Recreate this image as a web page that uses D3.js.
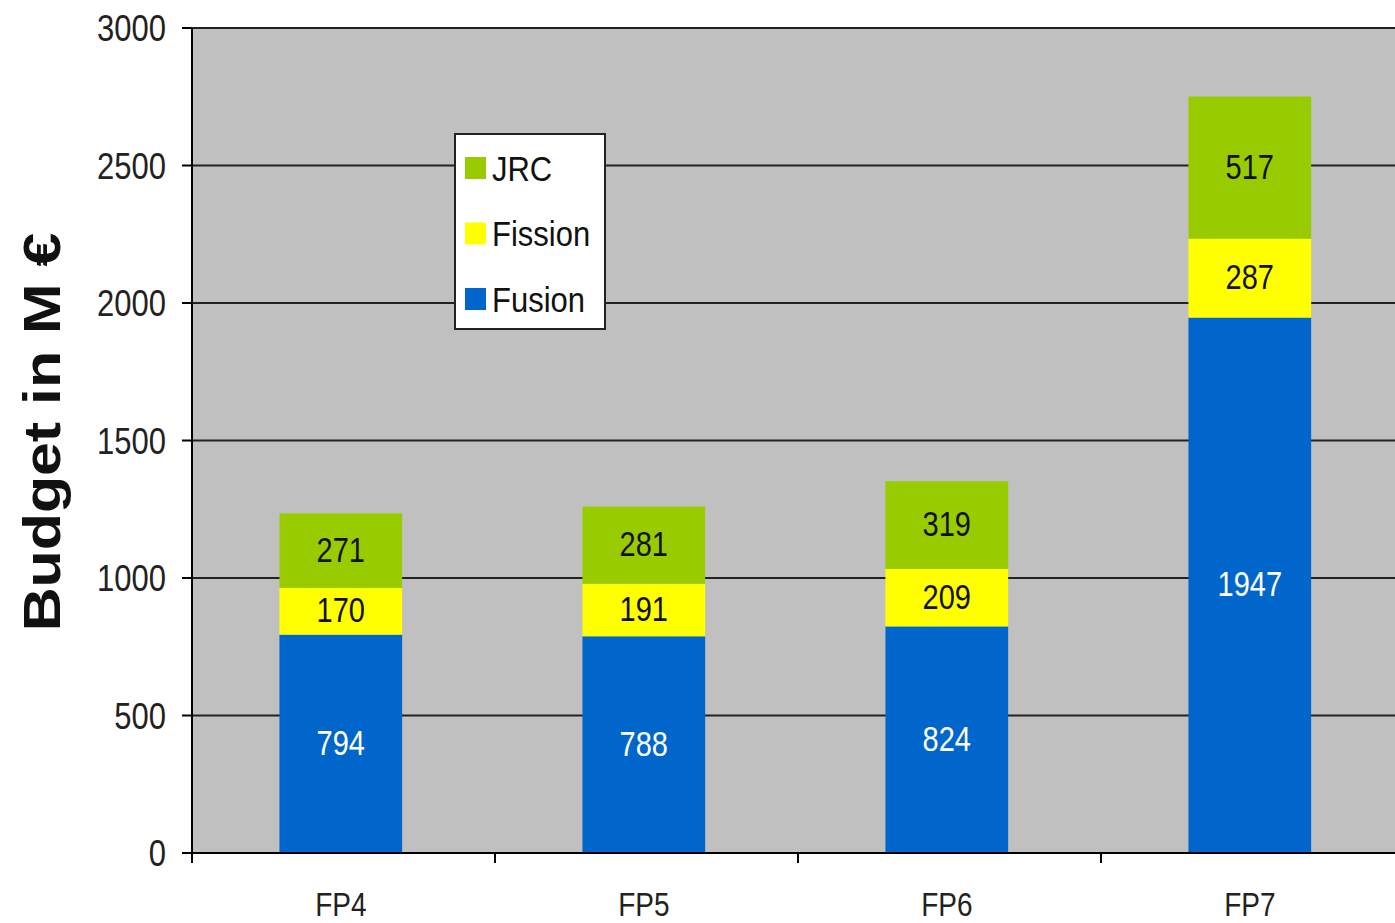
<!DOCTYPE html>
<html lang="en">
<head>
    <meta charset="UTF-8">
    <title>Budget in M €</title>
    <script type="text/javascript" src="https://cdn.jsdelivr.net/npm/d3@7"></script>
    <style>
        body { margin: 0; background: #fff; }
        text { font-family: "Liberation Sans", Arial, sans-serif; }
    </style>
</head>
<body>
    <script type="text/javascript">

        //data
        var categories = ["FP4", "FP5", "FP6", "FP7"];
        var fusion  = [794, 788, 824, 1947];
        var fission = [170, 191, 209, 287];
        var jrc     = [271, 281, 319, 517];
        var seriesNames = ["Fusion", "Fission", "JRC"];
        var seriesColors = ["#0066cc", "#ffff00", "#99cc00"];
        var labelColors = ["#ffffff", "#111111", "#111111"];
        var yTicks = [0, 500, 1000, 1500, 2000, 2500, 3000];

        //Width and height
        var w = 1395;
        var h = 923;
        var plotLeft = 192, plotTop = 28, plotBottom = 853;
        var plotRight = plotLeft + 4 * 303;
        var sy = 1.2;   // text looks stretched vertically

        var table = categories.map(function(c, i) {
            return { cat: c, Fusion: fusion[i], Fission: fission[i], JRC: jrc[i] };
        });
        var stacked = d3.stack().keys(seriesNames)(table);

        var xScale = d3.scaleBand()
                        .domain(categories)
                        .range([plotLeft, plotRight])
                        .paddingInner(0.595)
                        .paddingOuter(0.2975)
                        .align(0.485);

        var yScale = d3.scaleLinear()
                        .domain([0, 3000])
                        .range([plotBottom, plotTop]);

        var svg = d3.select("body")
                    .append("svg")
                    .attr("width", w)
                    .attr("height", h);

        //plot background
        svg.append("rect")
            .attr("x", plotLeft)
            .attr("y", plotTop)
            .attr("width", plotRight - plotLeft)
            .attr("height", plotBottom - plotTop)
            .attr("fill", "#c0c0c0");

        //gridlines
        svg.selectAll("line.grid")
            .data(yTicks.slice(1))
            .enter()
            .append("line")
            .attr("class", "grid")
            .attr("x1", plotLeft)
            .attr("x2", plotRight)
            .attr("y1", function(d) { return yScale(d); })
            .attr("y2", function(d) { return yScale(d); })
            .attr("stroke", "#222")
            .attr("stroke-width", 2);

        //bars
        var layers = svg.selectAll("g.layer")
            .data(stacked)
            .enter()
            .append("g")
            .attr("class", "layer")
            .attr("fill", function(d, i) { return seriesColors[i]; });

        layers.selectAll("rect")
            .data(function(d) { return d; })
            .enter()
            .append("rect")
            .attr("x", function(d) { return xScale(d.data.cat); })
            .attr("y", function(d) { return yScale(d[1]); })
            .attr("width", xScale.bandwidth())
            .attr("height", function(d) { return yScale(d[0]) - yScale(d[1]); });

        //value labels
        stacked.forEach(function(layer, li) {
            svg.selectAll("text.v" + li)
                .data(layer)
                .enter()
                .append("text")
                .attr("class", "v" + li)
                .attr("transform", function(d) {
                    var cx = xScale(d.data.cat) + xScale.bandwidth() / 2;
                    var cy = (yScale(d[0]) + yScale(d[1])) / 2;
                    return "translate(" + cx + "," + cy + ") scale(1," + sy + ")";
                })
                .attr("text-anchor", "middle")
                .attr("dy", "0.32em")
                .attr("font-size", 29)
                .attr("fill", labelColors[li])
                .text(function(d) { return d[1] - d[0]; });
        });

        //y axis
        var yAxis = svg.append("g").attr("transform", "translate(" + plotLeft + ",0)");
        yAxis.append("line")
            .attr("x1", 0).attr("x2", 0)
            .attr("y1", plotTop).attr("y2", plotBottom + 10)
            .attr("stroke", "#000").attr("stroke-width", 2);
        yAxis.selectAll("line.tick")
            .data(yTicks)
            .enter()
            .append("line")
            .attr("class", "tick")
            .attr("x1", -10).attr("x2", 0)
            .attr("y1", function(d) { return yScale(d); })
            .attr("y2", function(d) { return yScale(d); })
            .attr("stroke", "#000").attr("stroke-width", 2);
        yAxis.selectAll("text")
            .data(yTicks)
            .enter()
            .append("text")
            .attr("transform", function(d) {
                return "translate(-26," + yScale(d) + ") scale(1," + sy + ")";
            })
            .attr("text-anchor", "end")
            .attr("dy", "0.36em")
            .attr("font-size", 31)
            .attr("fill", "#222")
            .text(function(d) { return d; });

        //x axis
        var xAxis = svg.append("g");
        xAxis.append("line")
            .attr("x1", plotLeft).attr("x2", plotRight)
            .attr("y1", plotBottom).attr("y2", plotBottom)
            .attr("stroke", "#000").attr("stroke-width", 2);
        xAxis.selectAll("line.tick")
            .data(categories)
            .enter()
            .append("line")
            .attr("class", "tick")
            .attr("x1", function(d, i) { return plotLeft + (i + 1) * xScale.step(); })
            .attr("x2", function(d, i) { return plotLeft + (i + 1) * xScale.step(); })
            .attr("y1", plotBottom).attr("y2", plotBottom + 10)
            .attr("stroke", "#000").attr("stroke-width", 2);
        xAxis.selectAll("text")
            .data(categories)
            .enter()
            .append("text")
            .attr("transform", function(d) {
                return "translate(" + (xScale(d) + xScale.bandwidth() / 2) + "," + 904 + ") scale(1," + sy + ")";
            })
            .attr("text-anchor", "middle")
            .attr("dy", "0.36em")
            .attr("font-size", 28)
            .attr("fill", "#222")
            .text(function(d) { return d; });

        //y title
        svg.append("text")
            .attr("transform", "translate(41,432) rotate(-90) scale(1.17,1)")
            .attr("text-anchor", "middle")
            .attr("dy", "0.36em")
            .attr("font-size", 52)
            .attr("font-weight", "bold")
            .attr("fill", "#111")
            .text("Budget in M €");

        //legend
        var legend = svg.append("g").attr("transform", "translate(455,134)");
        legend.append("rect")
            .attr("width", 150)
            .attr("height", 195)
            .attr("fill", "#fff")
            .attr("stroke", "#222")
            .attr("stroke-width", 2);
        var legendOrder = [2, 1, 0];
        var items = legend.selectAll("g.item")
            .data(legendOrder)
            .enter()
            .append("g")
            .attr("class", "item")
            .attr("transform", function(d, i) { return "translate(0," + (34 + i * 65.5) + ")"; });
        items.append("rect")
            .attr("x", 10).attr("y", -11)
            .attr("width", 21).attr("height", 22)
            .attr("fill", function(d) { return seriesColors[d]; });
        items.append("text")
            .attr("transform", "translate(37,0) scale(1," + 1.15 + ")")
            .attr("dy", "0.36em")
            .attr("font-size", 31)
            .attr("fill", "#111")
            .text(function(d) { return seriesNames[d]; });

    </script>
</body>
</html>
